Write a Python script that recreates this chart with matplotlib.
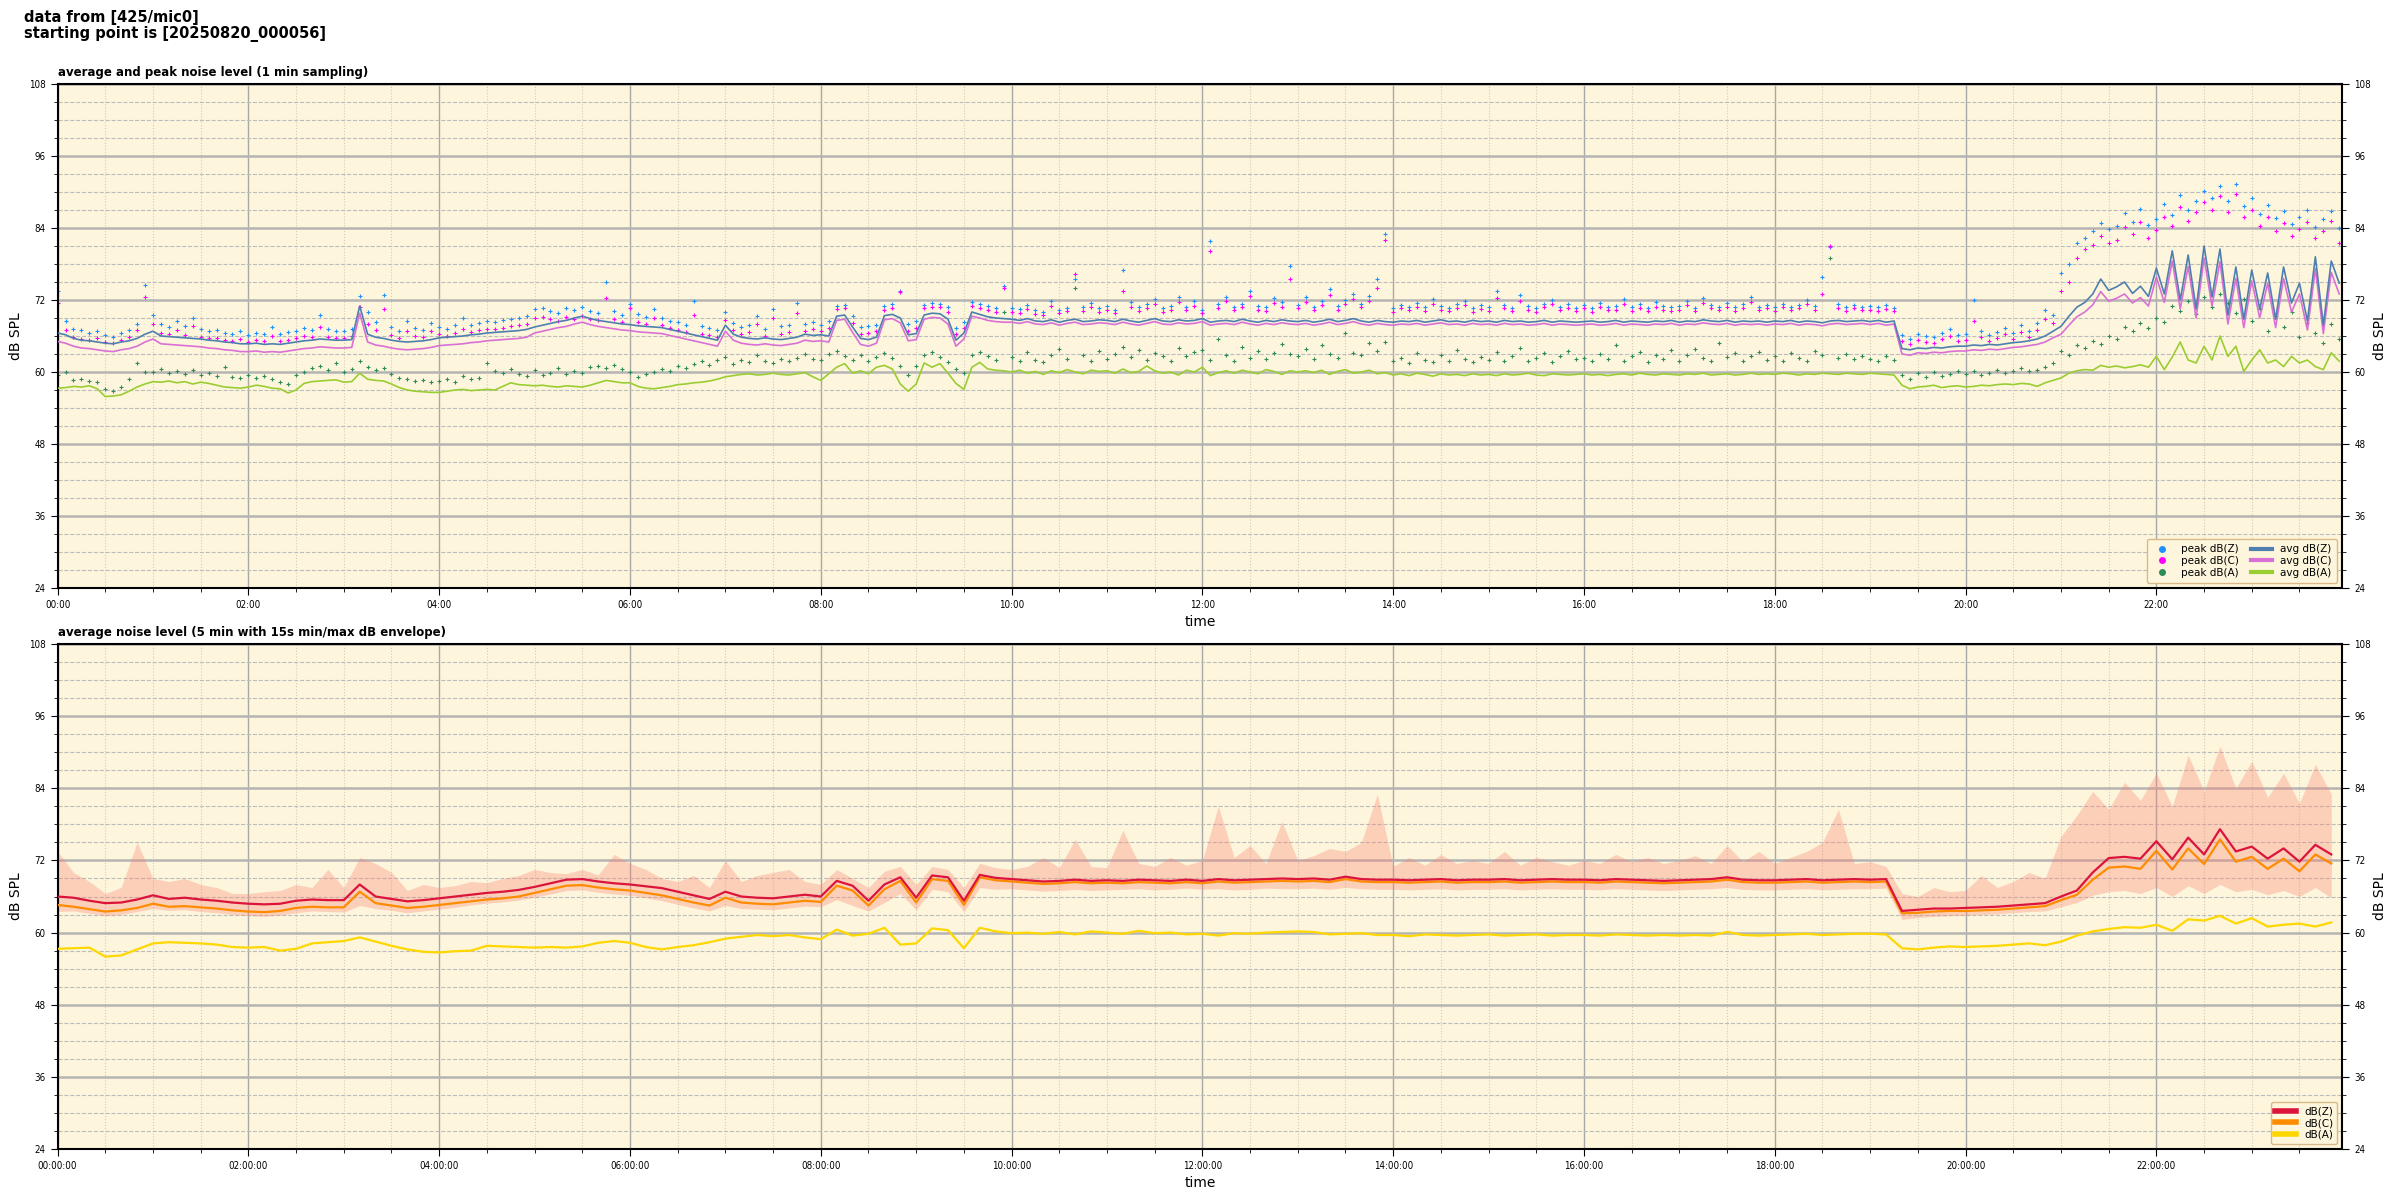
import numpy as np
import matplotlib
matplotlib.use("Agg")
import matplotlib.pyplot as plt
from matplotlib.ticker import MultipleLocator, FuncFormatter
from matplotlib.lines import Line2D

avg_z = [
    66.5, 66.2, 65.6, 65.3, 65.2, 65.0, 64.8, 64.7, 65.0, 65.2, 65.6, 66.3,
    66.8, 66.0, 65.9, 65.8, 65.7, 65.6, 65.5, 65.3, 65.2, 65.0, 64.9, 64.7,
    64.7, 64.8, 64.6, 64.7, 64.6, 64.8, 65.0, 65.2, 65.3, 65.5, 65.4, 65.3,
    65.3, 65.4, 71.0, 66.3, 65.8, 65.6, 65.3, 65.1, 65.0, 65.1, 65.2, 65.4,
    65.7, 65.8, 65.9, 66.0, 66.2, 66.3, 66.5, 66.6, 66.7, 66.8, 66.9, 67.1,
    67.5, 67.8, 68.1, 68.4, 68.6, 69.0, 69.3, 68.9, 68.6, 68.4, 68.2, 68.0,
    67.9, 67.7, 67.6, 67.5, 67.4, 67.1, 66.8, 66.5, 66.2, 65.9, 65.6, 65.3,
    67.8, 66.3, 65.8, 65.6, 65.5, 65.7, 65.5, 65.4, 65.6, 65.8, 66.3, 66.1,
    66.2, 66.0, 69.3, 69.5, 67.5, 65.6, 65.4, 65.8, 69.4, 69.6, 69.0, 66.2,
    66.4, 69.5, 69.8, 69.7, 68.8, 65.3, 66.5, 70.0, 69.6, 69.2, 69.0, 68.9,
    68.8, 68.6, 68.9, 68.5, 68.4, 68.7, 68.3, 68.6, 68.8, 68.4, 68.5, 68.7,
    68.6, 68.4, 68.8, 68.5, 68.3, 68.6, 68.9, 68.5, 68.4, 68.7, 68.5, 68.6,
    68.9, 68.3, 68.5, 68.6, 68.4, 68.8, 68.5, 68.3, 68.6, 68.4, 68.7, 68.5,
    68.4, 68.6, 68.3, 68.5, 68.8, 68.4, 68.6, 68.9, 68.5, 68.3, 68.6, 68.4,
    68.3, 68.5, 68.4, 68.6, 68.3, 68.5, 68.7, 68.4, 68.5, 68.3, 68.6, 68.4,
    68.5, 68.3, 68.6, 68.4, 68.5, 68.3, 68.4, 68.6, 68.3, 68.5, 68.4, 68.3,
    68.4, 68.5, 68.3, 68.4, 68.6, 68.3, 68.5, 68.4, 68.3, 68.5, 68.4, 68.6,
    68.3, 68.5, 68.4, 68.7, 68.5, 68.4, 68.6, 68.3, 68.5, 68.4, 68.5, 68.3,
    68.5, 68.4, 68.6, 68.3, 68.5, 68.4, 68.2, 68.5, 68.6, 68.4, 68.5, 68.6,
    68.4, 68.6, 68.3, 68.5, 63.9, 63.7, 64.0, 63.9, 64.1, 64.0, 64.2, 64.3,
    64.3, 64.5, 64.4, 64.6, 64.5, 64.7, 64.9, 65.0, 65.2, 65.5, 66.0, 66.8,
    67.6, 69.3, 70.8, 71.6, 73.0, 75.5, 73.6, 74.2, 75.0, 73.1, 74.3, 72.6,
    77.3, 73.0, 80.2, 72.0, 79.5, 70.5, 81.0, 72.5, 80.5, 69.5, 77.5, 68.8,
    77.0, 70.5, 76.5, 68.8, 77.5, 71.5, 74.8, 68.5, 79.2, 67.8, 78.5, 74.8,
]
avg_c = [
    65.1, 64.8, 64.3, 64.0, 63.9, 63.7, 63.5, 63.4, 63.7, 63.9, 64.3, 65.0,
    65.5, 64.7, 64.6, 64.5, 64.4, 64.3, 64.2, 64.0, 63.9, 63.7, 63.6, 63.4,
    63.4, 63.5, 63.3, 63.4, 63.3, 63.5, 63.7, 63.9, 64.0, 64.2, 64.1, 64.0,
    64.0, 64.1, 69.8, 65.0, 64.5, 64.3, 64.0, 63.8, 63.7, 63.8, 63.9, 64.1,
    64.4, 64.5, 64.6, 64.7, 64.9, 65.0, 65.2, 65.3, 65.4, 65.5, 65.6, 65.8,
    66.5, 66.8, 67.1, 67.4, 67.6, 68.0, 68.3, 67.9, 67.6, 67.4, 67.2, 67.0,
    66.9, 66.7, 66.6, 66.5, 66.4, 66.1, 65.8, 65.5, 65.2, 64.9, 64.6, 64.3,
    66.8, 65.3, 64.8, 64.6, 64.5, 64.7, 64.5, 64.4, 64.6, 64.8, 65.3, 65.1,
    65.2, 65.0, 68.6, 68.8, 66.6, 64.6, 64.3, 64.8, 68.7, 68.9, 68.2, 65.2,
    65.4, 68.8, 69.1, 69.0, 68.0, 64.3, 65.5, 69.3, 69.0, 68.6, 68.4, 68.3,
    68.3, 68.1, 68.4, 68.0, 67.9, 68.2, 67.8, 68.1, 68.3, 67.9, 68.0, 68.2,
    68.1, 67.9, 68.3, 68.0, 67.8, 68.1, 68.4, 68.0, 67.9, 68.2, 68.0, 68.1,
    68.4, 67.8, 68.0, 68.1, 67.9, 68.3, 68.0, 67.8, 68.1, 67.9, 68.2, 68.0,
    67.9, 68.1, 67.8, 68.0, 68.3, 67.9, 68.1, 68.4, 68.0, 67.8, 68.1, 67.9,
    67.8, 68.0, 67.9, 68.1, 67.8, 68.0, 68.2, 67.9, 68.0, 67.8, 68.1, 67.9,
    68.0, 67.8, 68.1, 67.9, 68.0, 67.8, 67.9, 68.1, 67.8, 68.0, 67.9, 67.8,
    67.9, 68.0, 67.8, 67.9, 68.1, 67.8, 68.0, 67.9, 67.8, 68.0, 67.9, 68.1,
    67.8, 68.0, 67.9, 68.2, 68.0, 67.9, 68.1, 67.8, 68.0, 67.9, 68.0, 67.8,
    68.0, 67.9, 68.1, 67.8, 68.0, 67.9, 67.7, 68.0, 68.1, 67.9, 68.0, 68.1,
    67.9, 68.1, 67.8, 68.0, 63.0, 62.8, 63.2, 63.1, 63.3, 63.2, 63.4, 63.5,
    63.5, 63.7, 63.6, 63.8, 63.7, 63.9, 64.1, 64.2, 64.4, 64.6, 65.0, 65.7,
    66.3, 67.8, 69.2, 70.0, 71.2, 73.4, 71.8, 72.3, 73.0, 71.5, 72.4, 71.0,
    75.8, 71.6, 78.5, 70.5, 77.6, 69.0, 79.0, 71.0, 78.4, 68.0, 75.6, 67.4,
    75.2, 69.0, 74.8, 67.4, 75.6, 70.0, 73.0, 67.0, 77.2, 66.4, 76.6, 73.0,
]
avg_a = [
    57.3, 57.4, 57.6, 57.5, 57.7, 57.2, 55.9, 56.0, 56.2, 56.8, 57.5, 58.0,
    58.4, 58.3, 58.5, 58.2, 58.4, 58.0, 58.3, 58.1, 57.8, 57.5, 57.4, 57.3,
    57.5, 57.8, 57.6, 57.3, 57.2, 56.5, 57.0, 58.1, 58.4, 58.5, 58.6, 58.7,
    58.3, 58.4, 59.8, 58.8, 58.6, 58.5, 58.0, 57.4, 57.0, 56.8, 56.7, 56.6,
    56.6, 56.8, 57.0, 57.1, 56.9, 57.0, 57.1, 57.0, 57.6, 58.2, 57.9, 57.8,
    57.7, 57.8, 57.6, 57.5, 57.7, 57.6, 57.5, 57.8, 58.2, 58.6, 58.4, 58.2,
    58.2, 57.6, 57.3, 57.2, 57.4, 57.6, 57.9, 58.0, 58.2, 58.3, 58.5, 58.8,
    59.2, 59.4, 59.6, 59.7, 59.5, 59.6, 59.8, 59.6, 59.5, 59.7, 59.9, 59.2,
    58.6, 59.7, 60.8, 61.4, 59.8, 60.2, 59.7, 60.8, 61.1, 60.5, 58.0, 56.8,
    58.0, 61.5, 60.8, 61.4, 59.8, 58.1, 57.1, 60.8, 61.6, 60.5, 60.3, 60.2,
    60.0, 60.3, 59.8, 60.1, 59.6, 60.2, 59.9, 60.4, 60.0, 59.7, 60.3, 60.1,
    60.2, 59.8, 60.5, 59.9, 60.1, 61.0, 60.2, 59.8, 60.0, 59.5, 60.3, 60.0,
    60.8, 59.4, 59.9, 60.2, 59.8, 60.3, 60.0, 59.7, 60.4, 60.1, 59.6, 60.2,
    60.0, 60.2, 59.9, 60.3, 59.6, 60.1, 60.4, 59.8, 60.0, 60.3, 59.7, 59.9,
    59.5, 59.7, 59.4, 59.8, 59.6, 59.3, 59.7, 59.5, 59.6, 59.4, 59.7, 59.5,
    59.6, 59.4, 59.7, 59.5, 59.6, 59.8, 59.5, 59.4, 59.7, 59.6, 59.5, 59.6,
    59.7, 59.5, 59.6, 59.4, 59.6, 59.7, 59.5, 59.8, 59.6, 59.5, 59.7, 59.6,
    59.5, 59.7, 59.6, 59.8, 59.5, 59.6, 59.7, 59.5, 59.6, 59.8, 59.6, 59.7,
    59.6, 59.8, 59.7, 59.5, 59.7, 59.6, 59.8, 59.7, 59.6, 59.8, 59.7, 59.6,
    59.8, 59.7, 59.6, 59.5, 57.8, 57.2, 57.5, 57.6, 57.8, 57.4, 57.6, 57.7,
    57.5, 57.6, 57.8, 57.7, 57.9, 58.0, 57.9, 58.1, 58.0, 57.6, 58.2, 58.6,
    59.0, 59.8, 60.2, 60.4, 60.3, 61.1, 60.8, 61.0, 60.7, 60.9, 61.2, 60.8,
    62.6, 60.4, 62.5, 65.0, 62.0, 61.5, 64.3, 62.0, 66.0, 62.6, 64.3, 60.1,
    62.0, 63.7, 61.5, 62.0, 60.9, 62.6, 61.5, 62.0, 60.9, 60.4, 63.2, 61.8,
]
peak_z = [
    73.5, 68.5, 67.2, 67.0, 66.5, 66.8, 66.2, 65.9, 66.5, 67.0, 68.0, 74.5,
    69.5, 68.0, 67.5, 68.5, 67.6, 69.0, 67.2, 66.8, 67.0, 66.5, 66.4, 66.8,
    66.2, 66.5, 66.3, 67.5, 66.4, 66.6, 66.9, 67.4, 67.0, 69.5, 67.2, 66.9,
    66.8, 67.2, 72.6, 70.0, 68.3, 72.8, 67.5, 66.8, 68.5, 67.3, 67.0, 68.2,
    67.5, 67.2, 67.8, 69.0, 67.9, 68.2, 68.5, 68.4, 68.6, 68.9, 69.0, 69.3,
    70.5, 70.7, 70.2, 69.8, 70.6, 70.3, 70.8, 70.1, 69.9, 75.0, 70.2, 69.5,
    71.4, 69.6, 69.2, 70.5, 69.0, 68.5, 68.3, 67.8, 71.8, 67.6, 67.4, 67.0,
    70.0, 68.2, 67.5, 67.8, 69.3, 67.2, 70.5, 67.6, 67.8, 71.5, 68.0, 68.4,
    67.9, 68.5, 71.0, 71.2, 69.3, 67.5, 67.6, 67.9, 71.0, 71.3, 73.5, 68.0,
    68.5, 71.2, 71.5, 71.4, 70.8, 67.4, 68.4, 71.7, 71.3, 71.0, 70.7, 74.3,
    70.6, 70.5, 71.2, 70.3, 70.0, 71.8, 70.4, 70.7, 75.5, 70.8, 71.5, 70.6,
    71.0, 70.4, 77.0, 71.6, 70.8, 71.3, 72.2, 70.6, 71.0, 72.5, 70.9, 71.8,
    70.4, 81.9, 71.3, 72.5, 70.9, 71.4, 73.5, 71.0, 70.8, 72.3, 71.6, 77.6,
    71.2, 72.5, 70.9, 71.8, 73.8, 71.0, 72.0, 73.0, 71.4, 72.6, 75.5, 83.0,
    70.6, 71.2, 70.9, 71.5, 70.8, 72.2, 71.0, 70.7, 71.3, 71.8, 70.6, 71.1,
    70.8, 73.5, 71.2, 70.7, 72.8, 71.0, 70.6, 71.4, 72.0, 70.9, 71.3, 70.7,
    71.2, 70.6, 71.5, 70.9, 71.0, 72.1, 70.8, 71.3, 70.7, 71.6, 71.0, 70.8,
    71.0, 71.8, 70.7, 72.3, 71.2, 70.9, 71.5, 70.8, 71.3, 72.5, 70.9, 71.2,
    70.8, 71.4, 70.9, 71.2, 72.0, 71.0, 75.8, 80.9, 71.3, 70.8, 71.2, 70.9,
    71.0, 70.8, 71.1, 70.7, 66.2, 65.5, 66.3, 66.0, 65.8, 66.5, 67.2, 66.1,
    66.3, 72.0, 66.8, 66.2, 66.7, 67.4, 66.5, 67.8, 66.9, 68.2, 70.3, 69.5,
    76.5, 78.0, 81.5, 82.3, 83.5, 84.8, 83.8, 84.3, 86.5, 85.0, 87.2, 84.5,
    85.5, 88.0, 86.2, 89.5, 87.0, 88.5, 90.2, 89.0, 91.0, 88.5, 91.3, 87.6,
    89.0, 86.4, 87.8, 85.6, 86.9, 84.6, 85.8, 87.0, 84.2, 85.5, 86.8, 84.0,
]
peak_c = [
    71.5, 67.0, 65.8, 65.5, 65.3, 65.6, 65.0, 64.8, 65.4, 65.8, 67.0, 72.5,
    68.0, 66.5, 66.3, 67.0, 66.2, 67.6, 65.9, 65.6, 65.7, 65.3, 65.2, 65.5,
    65.0, 65.3, 65.1, 66.0, 65.2, 65.4, 65.6, 66.0, 65.8, 67.5, 65.9, 65.7,
    65.6, 66.0, 70.8, 68.0, 67.0, 70.5, 66.2, 65.6, 66.8, 66.0, 65.8, 66.8,
    66.3, 66.0, 66.5, 67.2, 66.7, 67.0, 67.2, 67.1, 67.4, 67.6, 67.8, 68.0,
    69.0, 69.2, 68.8, 68.5, 69.1, 68.9, 69.4, 68.8, 68.6, 72.3, 68.9, 68.3,
    70.6, 68.4, 68.0, 69.0, 67.8, 67.3, 67.0, 66.6, 69.5, 66.4, 66.2, 65.9,
    68.6, 67.0, 66.3, 66.6, 68.0, 66.0, 69.0, 66.4, 66.7, 69.8, 66.9, 67.2,
    66.8, 67.3, 70.5, 70.6, 68.2, 66.4, 66.5, 66.8, 70.4, 70.7, 73.4, 66.9,
    67.4, 70.6, 70.9, 70.8, 70.0, 66.3, 67.3, 71.0, 70.6, 70.3, 70.0, 74.0,
    70.0, 69.9, 70.5, 69.7, 69.5, 71.0, 69.8, 70.1, 76.3, 70.2, 70.8, 70.0,
    70.3, 69.8, 73.5, 70.9, 70.2, 70.6, 71.4, 70.0, 70.4, 71.6, 70.3, 71.0,
    69.8, 80.1, 70.7, 71.8, 70.3, 70.8, 72.6, 70.4, 70.2, 71.5, 70.9, 75.5,
    70.6, 71.7, 70.3, 71.1, 72.8, 70.4, 71.3, 72.2, 70.8, 71.8, 74.0, 82.0,
    70.0, 70.6, 70.3, 70.9, 70.2, 71.4, 70.4, 70.1, 70.7, 71.1, 70.0, 70.5,
    70.2, 72.3, 70.6, 70.1, 71.9, 70.4, 70.0, 70.8, 71.3, 70.3, 70.7, 70.1,
    70.6, 70.0, 70.9, 70.3, 70.4, 71.3, 70.2, 70.7, 70.1, 70.9, 70.4, 70.2,
    70.4, 71.1, 70.1, 71.5, 70.6, 70.3, 70.9, 70.2, 70.7, 71.6, 70.3, 70.6,
    70.2, 70.8, 70.3, 70.6, 71.3, 70.4, 73.0, 81.0, 70.7, 70.2, 70.6, 70.3,
    70.4, 70.2, 70.5, 70.1, 65.2, 64.6, 65.3, 65.0, 64.9, 65.5, 66.0, 65.1,
    65.3, 68.5, 65.8, 65.2, 65.7, 66.3, 65.5, 66.6, 65.9, 67.0, 68.8, 68.2,
    73.5, 75.0, 79.0, 80.5, 81.2, 82.6, 81.5, 82.0, 84.2, 83.0, 85.0, 82.3,
    83.6, 85.8, 84.3, 87.5, 85.2, 86.6, 88.4, 87.0, 89.4, 86.7, 89.6, 85.8,
    87.0, 84.3, 85.9, 83.5, 84.8, 82.7, 83.8, 85.0, 82.4, 83.5, 85.2, 81.5,
]
peak_a = [
    59.5, 60.0, 58.6, 58.8, 58.5, 58.3, 57.2, 56.8, 57.5, 58.8, 61.5, 60.0,
    60.0, 60.5, 59.8, 60.2, 59.6, 60.4, 59.5, 59.9, 59.3, 60.8, 59.2, 59.0,
    59.5, 59.0, 59.4, 58.8, 58.4, 58.0, 59.5, 60.0, 60.6, 61.0, 60.3, 61.5,
    60.0, 60.5, 61.8, 60.8, 60.3, 60.6, 59.7, 59.0, 58.8, 58.5, 58.6, 58.3,
    58.5, 58.9, 58.4, 59.3, 58.8, 59.0, 61.5, 60.2, 59.8, 60.5, 59.6, 59.4,
    60.3, 59.5, 59.8, 60.6, 59.7, 60.2, 59.9, 60.8, 61.0, 60.6, 61.2, 60.5,
    60.0, 59.2, 59.6, 60.0, 60.5, 60.2, 61.0, 60.6, 61.3, 61.8, 61.2, 62.0,
    62.5, 61.4, 62.0, 61.6, 62.8, 61.9, 61.5, 62.2, 61.8, 62.4, 63.0, 62.2,
    62.0, 63.0, 63.5, 62.6, 62.0, 62.8, 61.9, 62.5, 63.2, 62.4, 61.0, 59.5,
    61.0, 62.8, 63.4, 62.5, 61.6, 60.5, 59.8, 62.9, 63.3, 62.7, 62.0, 70.0,
    62.5, 61.8, 63.4, 62.0, 61.6, 62.8, 63.8, 62.2, 74.0, 62.9, 61.8, 63.5,
    62.2, 63.0, 64.2, 62.5, 63.6, 62.0, 63.2, 62.6, 61.8, 64.0, 62.7, 63.4,
    63.6, 62.0, 65.5, 62.8, 61.9, 64.2, 62.4, 63.5, 62.1, 63.2, 64.6, 63.0,
    62.6, 63.8, 62.2, 64.5, 63.0, 62.4, 66.5, 63.2, 62.8, 64.8, 63.5, 65.0,
    61.8, 62.4, 61.5, 63.2, 62.0, 61.6, 62.8, 61.9, 63.6, 62.2, 61.7, 62.5,
    62.0, 63.4, 61.8, 62.6, 64.0, 61.9, 62.3, 63.1, 61.7, 62.7, 63.5, 62.1,
    62.4, 61.8, 63.0, 62.2, 64.5, 61.9, 62.6, 63.3, 61.7, 62.9, 62.2, 63.6,
    61.9, 62.8, 63.8, 62.3, 61.8, 64.8, 62.5, 63.1, 61.9, 62.7, 63.4, 62.0,
    62.6, 61.9, 63.2, 62.4, 61.8, 63.5, 62.8, 79.0, 62.3, 63.0, 62.1, 62.7,
    62.2, 61.8, 62.6, 62.0, 59.5, 58.9, 59.8, 59.2, 60.0, 59.4, 59.7, 60.2,
    59.6, 60.1, 59.5, 59.9, 60.3, 59.8, 60.2, 60.6, 60.1, 60.4, 60.8, 61.5,
    63.5, 62.8, 64.5, 64.0, 65.2, 64.6, 66.0, 65.5, 67.5, 66.8, 68.2, 67.4,
    69.0, 68.4, 71.0, 70.2, 71.8, 69.6, 72.5, 70.8, 73.0, 71.5, 69.8, 72.2,
    68.5, 70.5, 66.8, 69.4, 67.5, 70.0, 65.8, 68.2, 66.5, 64.8, 68.0, 65.5,
]

lvl_z = [
    66.0, 65.8, 65.3, 64.9, 65.0, 65.5,  66.2, 65.6, 65.8, 65.5, 65.3, 65.0,
    64.8, 64.7, 64.8, 65.3, 65.5, 65.4,  65.4, 68.0, 66.0, 65.6, 65.2, 65.4,
    65.7, 66.0, 66.3, 66.6, 66.8, 67.1,  67.6, 68.2, 68.8, 68.9, 68.5, 68.2,
    68.0, 67.7, 67.4, 66.8, 66.2, 65.6,  66.8, 66.0, 65.8, 65.7, 66.0, 66.3,
    66.0, 68.6, 67.8, 65.3, 68.0, 69.2,  65.8, 69.5, 69.2, 65.3, 69.6, 69.1,
    68.9, 68.7, 68.5, 68.6, 68.8, 68.6,  68.7, 68.6, 68.8, 68.7, 68.6, 68.8,
    68.6, 68.9, 68.7, 68.8, 68.9, 69.0,  68.9, 69.0, 68.8, 69.3, 68.9, 68.8,
    68.8, 68.7, 68.8, 68.9, 68.7, 68.8,  68.8, 68.9, 68.7, 68.8, 68.9, 68.8,
    68.8, 68.7, 68.9, 68.8, 68.7, 68.6,  68.7, 68.8, 68.9, 69.2, 68.8, 68.7,
    68.7, 68.8, 68.9, 68.7, 68.8, 68.9,  68.8, 68.9, 63.6, 63.8, 64.0, 64.0,
    64.1, 64.2, 64.3, 64.5, 64.7, 64.9,  66.0, 67.0, 70.0, 72.4, 72.6, 72.3,
    75.2, 72.2, 75.8, 73.0, 77.2, 73.5,  74.3, 72.3, 74.0, 71.8, 74.6, 73.0,
]
lvl_c = [
    64.6, 64.3, 63.9, 63.5, 63.7, 64.1,  64.8, 64.3, 64.4, 64.2, 64.0, 63.7,
    63.5, 63.4, 63.6, 64.1, 64.3, 64.2,  64.2, 66.8, 64.9, 64.5, 64.1, 64.3,
    64.6, 64.9, 65.2, 65.5, 65.7, 66.0,  66.6, 67.2, 67.8, 67.9, 67.5, 67.2,
    67.0, 66.6, 66.2, 65.6, 65.0, 64.5,  65.8, 65.0, 64.8, 64.7, 65.0, 65.3,
    65.1, 67.8, 67.0, 64.5, 67.2, 68.6,  65.0, 68.9, 68.6, 64.6, 69.2, 68.7,
    68.5, 68.3, 68.1, 68.2, 68.4, 68.2,  68.3, 68.2, 68.4, 68.3, 68.2, 68.4,
    68.2, 68.5, 68.3, 68.4, 68.5, 68.6,  68.5, 68.6, 68.4, 68.9, 68.5, 68.4,
    68.4, 68.3, 68.4, 68.5, 68.3, 68.4,  68.4, 68.5, 68.3, 68.4, 68.5, 68.4,
    68.4, 68.3, 68.5, 68.4, 68.3, 68.2,  68.3, 68.4, 68.5, 68.8, 68.4, 68.3,
    68.3, 68.4, 68.5, 68.3, 68.4, 68.5,  68.4, 68.5, 63.2, 63.3, 63.5, 63.6,
    63.6, 63.7, 63.8, 64.0, 64.2, 64.4,  65.4, 66.3, 68.8, 70.8, 71.0, 70.6,
    73.6, 70.5, 74.0, 71.4, 75.5, 71.8,  72.6, 70.6, 72.3, 70.2, 73.0, 71.5,
]
lvl_a = [
    57.3, 57.4, 57.5, 56.0, 56.2, 57.2,  58.2, 58.4, 58.3, 58.2, 58.0, 57.6,
    57.5, 57.6, 57.0, 57.3, 58.2, 58.4,  58.6, 59.2, 58.5, 57.8, 57.2, 56.8,
    56.7, 56.9, 57.0, 57.8, 57.7, 57.6,  57.5, 57.6, 57.5, 57.7, 58.3, 58.6,
    58.3, 57.6, 57.2, 57.6, 57.9, 58.4,  59.0, 59.3, 59.6, 59.4, 59.6, 59.2,
    58.9, 60.5, 59.5, 59.8, 60.8, 58.0,  58.2, 60.7, 60.4, 57.4, 60.8, 60.2,
    59.9, 60.0, 59.8, 60.1, 59.7, 60.2,  60.0, 59.8, 60.3, 59.9, 60.0, 59.7,
    59.8, 59.5, 59.9, 59.8, 60.0, 60.1,  60.2, 60.1, 59.7, 59.8, 59.9, 59.6,
    59.6, 59.4, 59.7, 59.6, 59.5, 59.6,  59.7, 59.5, 59.6, 59.7, 59.5, 59.6,
    59.6, 59.5, 59.7, 59.6, 59.5, 59.6,  59.5, 59.6, 59.5, 60.1, 59.6, 59.5,
    59.6, 59.7, 59.8, 59.6, 59.7, 59.8,  59.8, 59.7, 57.4, 57.2, 57.5, 57.7,
    57.6, 57.7, 57.8, 58.0, 58.2, 57.9,  58.5, 59.5, 60.2, 60.6, 60.9, 60.8,
    61.3, 60.3, 62.2, 62.0, 62.8, 61.5,  62.4, 61.0, 61.3, 61.5, 61.0, 61.7,
]
env_lo = [
    63.5, 63.6, 63.2, 62.8, 63.0, 63.5,  64.0, 63.7, 63.8, 63.5, 63.3, 63.0,
    62.8, 62.7, 62.9, 63.3, 63.6, 63.5,  63.4, 64.5, 64.0, 63.7, 63.3, 63.6,
    63.9, 64.2, 64.6, 64.9, 65.1, 65.4,  65.9, 66.4, 67.0, 67.1, 66.7, 66.4,
    66.2, 65.8, 65.3, 64.7, 64.1, 63.6,  64.5, 64.0, 63.9, 63.8, 64.1, 64.4,
    64.3, 65.5, 64.5, 63.6, 65.0, 66.5,  63.8, 67.2, 66.8, 63.5, 67.5, 67.2,
    67.3, 67.1, 66.9, 67.0, 67.2, 67.0,  67.1, 67.2, 67.3, 67.1, 67.2, 67.4,
    67.2, 67.3, 67.1, 67.2, 67.4, 67.3,  67.3, 67.4, 67.2, 67.5, 67.3, 67.2,
    67.2, 67.1, 67.2, 67.3, 67.1, 67.2,  67.2, 67.3, 67.1, 67.2, 67.3, 67.2,
    67.2, 67.1, 67.3, 67.2, 67.1, 67.0,  67.1, 67.2, 67.3, 67.5, 67.2, 67.1,
    67.1, 67.2, 67.3, 67.1, 67.2, 67.3,  67.3, 67.4, 62.2, 62.5, 62.7, 62.8,
    62.9, 63.0, 63.1, 63.3, 63.5, 63.6,  64.3, 65.0, 66.2, 66.8, 67.0, 66.5,
    67.5, 66.0, 67.8, 66.5, 68.0, 66.8,  67.2, 66.3, 67.0, 66.0, 67.5, 65.8,
]
env_hi = [
    73.5, 70.0, 68.5, 66.5, 67.5, 75.0,  69.0, 68.5, 69.0, 68.0, 67.5, 66.5,
    66.5, 66.8, 67.0, 68.0, 67.5, 70.5,  67.5, 72.5, 71.5, 70.0, 67.0, 68.0,
    67.5, 67.8, 68.5, 68.3, 69.0, 69.5,  70.5, 70.0, 69.8, 70.5, 69.6, 73.0,
    71.5, 70.5, 69.0, 68.5, 69.5, 67.5,  72.0, 68.5, 69.5, 70.0, 70.5, 68.5,
    68.0, 70.5, 69.0, 67.5, 70.2, 71.0,  68.0, 71.0, 70.5, 67.5, 71.5, 70.8,
    70.5, 71.0, 72.5, 70.8, 75.5, 71.0,  70.8, 77.0, 71.5, 71.0, 72.5, 71.2,
    72.0, 81.0, 72.5, 74.5, 71.5, 78.5,  72.0, 72.8, 74.0, 73.5, 75.0, 83.0,
    71.0, 72.5, 71.2, 73.0, 71.5, 72.0,  71.5, 73.5, 71.2, 72.5, 71.8, 71.2,
    72.0, 71.5, 73.0, 71.8, 72.5, 71.5,  72.0, 72.8, 71.5, 74.5, 71.8, 73.5,
    71.5, 72.5, 73.5, 75.0, 80.5, 71.5,  71.8, 71.0, 66.5, 66.0, 67.5, 66.8,
    67.0, 69.5, 67.5, 68.5, 70.0, 69.0,  76.0, 79.5, 83.5, 80.5, 85.0, 82.0,
    86.5, 81.0, 89.5, 83.5, 91.0, 84.0,  88.5, 82.5, 86.5, 81.5, 88.0, 83.0,
]

# time in hours since the starting point
t_top = np.arange(len(avg_z)) * 5 / 60
t_bot = np.arange(len(lvl_z)) * 10 / 60

BG = '#fdf6dc'
plt.rcParams['font.family'] = ['DejaVu Sans']

fig = plt.figure(figsize=(24, 12), dpi=100)
fig.text(0.01, 0.992, 'data from [425/mic0]\nstarting point is [20250820_000056]',
         ha='left', va='top', fontsize=10.5, fontweight='bold', linespacing=1.1)

ax1 = fig.add_axes([0.024, 0.51, 0.952, 0.42])
ax2 = fig.add_axes([0.024, 0.0425, 0.952, 0.4208])


def style(ax, fmt):
    ax.set_facecolor(BG)
    ax.set_xlim(0, 23.95)
    ax.set_ylim(24, 108)
    ax.xaxis.set_major_locator(MultipleLocator(2))
    ax.xaxis.set_minor_locator(MultipleLocator(0.5))
    ax.yaxis.set_major_locator(MultipleLocator(12))
    ax.yaxis.set_minor_locator(MultipleLocator(3))
    ax.xaxis.set_major_formatter(FuncFormatter(lambda v, p: fmt % int(round(v))))
    ax.grid(which='major', axis='y', color='#b4b4b4', lw=1.8, zorder=0)
    ax.grid(which='major', axis='x', color='#a8a8a8', lw=1.0, zorder=0)
    ax.grid(which='minor', axis='y', color='#bcbcbc', lw=0.8, ls='--', zorder=0)
    ax.grid(which='minor', axis='x', color='#d2ccb8', lw=0.8, ls=':', zorder=0)
    ax.set_axisbelow(True)
    ax.tick_params(which='both', labelsize=7, right=True, labelright=True,
                   top=False, direction='out')
    ax.tick_params(which='major', length=5)
    ax.tick_params(which='minor', length=3)
    for lab in ax.get_xticklabels() + ax.get_yticklabels():
        lab.set_fontstretch('condensed')
    for s in ax.spines.values():
        s.set_linewidth(1.5)
    ax.set_ylabel('dB SPL', fontsize=10)
    ax.set_xlabel('time', fontsize=10, labelpad=4)
    sec = ax.secondary_yaxis('right')
    sec.set_yticks([])
    sec.spines['right'].set_visible(False)
    sec.set_ylabel('dB SPL', fontsize=10, labelpad=22)


style(ax1, '%02d:00')
style(ax2, '%02d:00:00')

# top: peaks as small crosses, averages as lines
ax1.scatter(t_top, peak_z, marker='+', s=10, lw=0.8, color='#1e90ff', zorder=2)
ax1.scatter(t_top, peak_c, marker='+', s=10, lw=0.8, color='#ff00ff', zorder=2)
ax1.scatter(t_top, peak_a, marker='+', s=10, lw=0.8, color='#2e8b57', zorder=2)
ax1.plot(t_top, avg_a, color='#9acd32', lw=1.2, zorder=3)
ax1.plot(t_top, avg_c, color='#da70d6', lw=1.2, zorder=3)
ax1.plot(t_top, avg_z, color='#4f7fae', lw=1.2, zorder=4)
ax1.set_title('average and peak noise level (1 min sampling)', loc='left',
              fontsize=8.5, fontweight='bold', pad=6)

handles1 = [
    Line2D([], [], marker='o', ls='', color='#1e90ff', markersize=4),
    Line2D([], [], marker='o', ls='', color='#ff00ff', markersize=4),
    Line2D([], [], marker='o', ls='', color='#2e8b57', markersize=4),
    Line2D([], [], color='#4f7fae', lw=3),
    Line2D([], [], color='#da70d6', lw=3),
    Line2D([], [], color='#9acd32', lw=3),
]
labels1 = ['peak dB(Z)', 'peak dB(C)', 'peak dB(A)', 'avg dB(Z)', 'avg dB(C)', 'avg dB(A)']
ax1.legend(handles1, labels1, loc='lower right', ncol=2, fontsize=7.5,
           facecolor=BG, edgecolor='#d9b98c', framealpha=1,
           handlelength=2.0, columnspacing=1.2, borderpad=0.5,
           labelspacing=0.15, fancybox=True)

# bottom: envelope plus 5 min averages
ax2.fill_between(t_bot, env_lo, env_hi, color='salmon', alpha=0.33, lw=0, zorder=1)
ax2.plot(t_bot, lvl_a, color='#ffd700', lw=1.6, zorder=3)
ax2.plot(t_bot, lvl_c, color='#ff8c00', lw=1.6, zorder=3)
ax2.plot(t_bot, lvl_z, color='#dc143c', lw=1.6, zorder=4)
ax2.set_title('average noise level (5 min with 15s min/max dB envelope)', loc='left',
              fontsize=8.5, fontweight='bold', pad=6)
handles2 = [Line2D([], [], color=c, lw=4) for c in ['#dc143c', '#ff8c00', '#ffd700']]
ax2.legend(handles2, ['dB(Z)', 'dB(C)', 'dB(A)'], loc='lower right', fontsize=7.5,
           facecolor=BG, edgecolor='#d9b98c', framealpha=1, handlelength=2.0,
           labelspacing=0.15, borderpad=0.4)

fig.savefig('out.png', dpi=100)
